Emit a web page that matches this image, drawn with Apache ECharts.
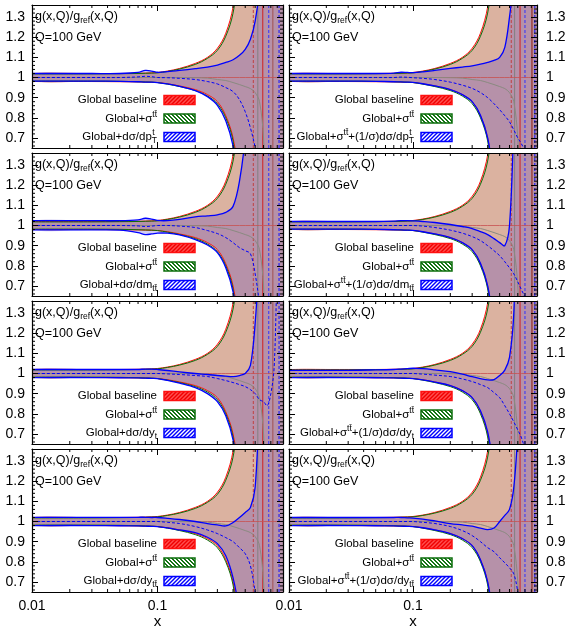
<!DOCTYPE html>
<html>
<head>
<meta charset="utf-8">
<script src="https://cdn.jsdelivr.net/npm/echarts@6/dist/echarts.min.js"></script>
<style>
  html, body { margin: 0; background: #fff; }
  #chart { width: 566px; height: 627px; }
</style>
</head>
<body>
<div id="chart"></div>
<script>
// shared x grid for every curve
const xs = [0.01, 0.03, 0.05, 0.07, 0.08, 0.09, 0.1, 0.12, 0.15, 0.2, 0.25, 0.3, 0.35, 0.4, 0.45, 0.5, 0.55, 0.6, 0.65, 0.7, 0.75, 0.8, 0.85, 0.9, 1.0];

// Global baseline (red) and Global+sigma_tt (green) are the same in every panel
const baseUp = [1.02, 1.02, 1.02, 1.021, 1.022, 1.023, 1.025, 1.032, 1.045, 1.07, 1.10, 1.145, 1.22, 1.35, 1.6, 2, 2, 2, 2, 2, 2, 2, 2, 2, 2];
const baseLo = [0.98, 0.98, 0.979, 0.978, 0.977, 0.976, 0.975, 0.969, 0.958, 0.94, 0.915, 0.88, 0.81, 0.70, 0.5, 0.3, 0.3, 0.3, 0.3, 0.3, 0.3, 0.3, 0.3, 0.3, 0.3];
const baseMid = [1, 1, 1, 1, 1, 1, 1, 1, 1, 1, 1, 1, 1, 1, 1, 1, 1, 1, 1, 1, 1, 1, 1, 1, 1];
const sigUp = [1.018, 1.018, 1.019, 1.02, 1.021, 1.022, 1.023, 1.03, 1.042, 1.065, 1.095, 1.135, 1.205, 1.32, 1.55, 2, 2, 2, 2, 2, 2, 2, 2, 2, 2];
const sigLo = [0.982, 0.982, 0.981, 0.979, 0.978, 0.977, 0.975, 0.967, 0.955, 0.935, 0.908, 0.87, 0.80, 0.685, 0.45, 0.3, 0.3, 0.3, 0.3, 0.3, 0.3, 0.3, 0.3, 0.3, 0.3];
const sigMid = [1, 1, 1, 1, 1, 1, 1, 1, 1, 0.999, 0.997, 0.99, 0.985, 0.975, 0.965, 0.955, 0.945, 0.925, 0.88, 0.7, 0.3, 0.3, 0.3, 0.3, 0.3];

// blue bands, one set per panel
const dptUp = [1.02, 1.02, 1.02, 1.025, 1.035, 1.032, 1.026, 1.029, 1.035, 1.044, 1.052, 1.062, 1.075, 1.088, 1.11, 1.14, 1.19, 1.28, 1.45, 2, 2, 2, 2, 2, 2];
const dptLo = [0.982, 0.982, 0.981, 0.979, 0.977, 0.977, 0.975, 0.968, 0.956, 0.935, 0.905, 0.862, 0.785, 0.66, 0.45, 0.3, 0.3, 0.3, 0.3, 0.3, 0.3, 0.3, 0.3, 0.3, 0.3];
const dptMid = [1, 1, 1, 1.003, 1.006, 1.004, 1.0, 0.999, 0.996, 0.99, 0.98, 0.968, 0.95, 0.93, 0.89, 0.83, 0.75, 0.65, 0.5, 0.3, 0.3, 0.3, 0.3, 0.3, 0.3];

const nDptUp = [1.02, 1.02, 1.02, 1.022, 1.026, 1.025, 1.024, 1.028, 1.035, 1.045, 1.052, 1.058, 1.066, 1.075, 1.085, 1.1, 1.15, 1.3, 1.5, 2, 2, 2, 2, 2, 2];
const nDptLo = [0.982, 0.982, 0.981, 0.979, 0.978, 0.977, 0.976, 0.969, 0.958, 0.94, 0.915, 0.88, 0.812, 0.7, 0.5, 0.3, 0.3, 0.3, 0.3, 0.3, 0.3, 0.3, 0.3, 0.3, 0.3];
const nDptMid = [1, 1, 1, 1, 1.002, 1.001, 0.999, 0.996, 0.99, 0.977, 0.962, 0.946, 0.925, 0.9, 0.87, 0.84, 0.81, 0.78, 0.74, 0.7, 0.67, 0.63, 0.5, 0.3, 0.3];

const dmUp = [1.024, 1.024, 1.024, 1.028, 1.036, 1.032, 1.025, 1.024, 1.03, 1.043, 1.048, 1.053, 1.065, 1.095, 1.22, 1.45, 2, 2, 2, 2, 2, 2, 2, 2, 2];
const dmLo = [0.978, 0.978, 0.977, 0.965, 0.955, 0.958, 0.962, 0.962, 0.953, 0.93, 0.903, 0.865, 0.79, 0.67, 0.45, 0.3, 0.3, 0.3, 0.3, 0.3, 0.3, 0.3, 0.3, 0.3, 0.3];
const dmMid = [1, 1, 1, 0.998, 0.995, 0.997, 1.0, 1.0, 0.997, 0.99, 0.975, 0.96, 0.94, 0.915, 0.89, 0.875, 0.86, 0.76, 0.6, 0.3, 0.3, 0.3, 0.3, 0.3, 0.3];

const nDmUp = [1.02, 1.02, 1.02, 1.022, 1.024, 1.024, 1.023, 1.02, 1.015, 1.005, 0.995, 0.985, 0.97, 0.955, 0.935, 0.915, 0.9, 1.0, 1.5, 2, 2, 2, 2, 2, 2];
const nDmLo = [0.982, 0.982, 0.981, 0.979, 0.978, 0.977, 0.976, 0.969, 0.958, 0.94, 0.915, 0.88, 0.812, 0.7, 0.5, 0.3, 0.3, 0.3, 0.3, 0.3, 0.3, 0.3, 0.3, 0.3, 0.3];
const nDmMid = [1, 1, 1, 1, 1, 1, 1, 0.997, 0.99, 0.977, 0.962, 0.945, 0.925, 0.9, 0.875, 0.85, 0.82, 0.79, 0.76, 0.72, 0.68, 0.64, 0.5, 0.3, 0.3];

const dytUp = [1.02, 1.02, 1.02, 1.02, 1.022, 1.022, 1.02, 1.015, 1.008, 1.0, 0.995, 0.99, 0.987, 0.985, 0.99, 1.0, 1.04, 1.25, 1.6, 2, 2, 2, 2, 2, 2];
const dytLo = [0.98, 0.98, 0.979, 0.978, 0.977, 0.976, 0.975, 0.966, 0.952, 0.93, 0.9, 0.86, 0.79, 0.67, 0.45, 0.3, 0.3, 0.3, 0.3, 0.3, 0.3, 0.3, 0.3, 0.3, 0.3];
const dytMid = [1, 1, 1, 1, 1, 1, 1, 0.998, 0.995, 0.99, 0.985, 0.975, 0.965, 0.955, 0.945, 0.935, 0.92, 0.9, 0.87, 0.86, 0.84, 0.9, 1.03, 1.5, 2];

const nDytUp = [1.016, 1.016, 1.018, 1.02, 1.022, 1.024, 1.026, 1.024, 1.018, 1.009, 0.997, 0.984, 0.975, 0.968, 0.97, 0.99, 1.017, 1.08, 1.3, 2, 2, 2, 2, 2, 2];
const nDytLo = [0.98, 0.98, 0.979, 0.978, 0.977, 0.976, 0.975, 0.968, 0.957, 0.94, 0.915, 0.88, 0.815, 0.71, 0.52, 0.3, 0.3, 0.3, 0.3, 0.3, 0.3, 0.3, 0.3, 0.3, 0.3];
const nDytMid = [1, 1, 1, 1, 1, 1, 1, 0.997, 0.992, 0.985, 0.973, 0.96, 0.945, 0.93, 0.905, 0.88, 0.84, 0.8, 0.76, 0.72, 0.68, 0.62, 0.5, 0.3, 0.3];

const dyttUp = [1.021, 1.021, 1.021, 1.021, 1.021, 1.02, 1.02, 1.016, 1.01, 1.0, 0.99, 0.983, 0.978, 0.995, 1.02, 1.045, 1.07, 1.17, 1.6, 2, 2, 2, 2, 2, 2];
const dyttLo = [0.98, 0.98, 0.979, 0.978, 0.977, 0.976, 0.975, 0.968, 0.958, 0.945, 0.922, 0.89, 0.83, 0.72, 0.55, 0.3, 0.3, 0.3, 0.3, 0.3, 0.3, 0.3, 0.3, 0.3, 0.3];
const dyttMid = [1, 1, 1, 1, 1, 1, 1, 0.996, 0.99, 0.975, 0.958, 0.94, 0.92, 0.9, 0.87, 0.84, 0.78, 0.65, 0.5, 0.3, 0.3, 0.3, 0.3, 0.3, 0.3];

const nDyttUp = [1.02, 1.02, 1.02, 1.02, 1.02, 1.018, 1.017, 1.012, 1.003, 0.99, 0.983, 0.977, 0.967, 0.96, 0.968, 1.0, 1.03, 1.06, 1.17, 1.45, 2, 2, 2, 2, 2];
const nDyttLo = [0.98, 0.98, 0.979, 0.978, 0.977, 0.976, 0.975, 0.969, 0.958, 0.94, 0.915, 0.88, 0.81, 0.70, 0.5, 0.3, 0.3, 0.3, 0.3, 0.3, 0.3, 0.3, 0.3, 0.3, 0.3];
const nDyttMid = [1, 1, 1, 1, 1, 1, 1, 0.996, 0.99, 0.975, 0.955, 0.93, 0.9, 0.87, 0.85, 0.82, 0.795, 0.77, 0.74, 0.65, 0.5, 0.3, 0.3, 0.3, 0.3];

// curves that run off vertically at large x
const leftVertX = [0.58, 0.63, 0.69, 0.77, 0.83, 0.93];
const rightVertX = [0.62, 0.66, 0.73, 0.8, 0.91, 0.96];
const vertColors = ['#c04040', '#808080', '#d02020', '#3030ff', '#a05050', '#1010ff'];
const vertDashed = [true, false, false, true, false, true];

// tick positions
const xMinorTicks = [0.02, 0.03, 0.04, 0.05, 0.06, 0.07, 0.08, 0.09, 0.2, 0.3, 0.4, 0.5, 0.6, 0.7, 0.8, 0.9];
const yMinorTicks = [0.66, 0.68, 0.72, 0.74, 0.76, 0.78, 0.82, 0.84, 0.86, 0.88, 0.92, 0.94, 0.96, 0.98,
  1.02, 1.04, 1.06, 1.08, 1.12, 1.14, 1.16, 1.18, 1.22, 1.24, 1.26, 1.28, 1.32, 1.34];
const xLabels = ['0.01', '0.1'];

const legendNames = ['Global baseline', 'Global+σ'];

const panels = [
  { row: 0, col: 0, up: dptUp, lo: dptLo, mid: dptMid, label: '{b|Global+dσ/dp}{sub|T}', sup: 't' },
  { row: 0, col: 1, up: nDptUp, lo: nDptLo, mid: nDptMid, label: '{b|Global+σ}{sup|tt̄}{b|+(1/σ)dσ/dp}{sub|T}', sup: 't' },
  { row: 1, col: 0, up: dmUp, lo: dmLo, mid: dmMid, label: '{b|Global+dσ/dm}{sub|tt̄}' },
  { row: 1, col: 1, up: nDmUp, lo: nDmLo, mid: nDmMid, label: '{b|Global+σ}{sup|tt̄}{b|+(1/σ)dσ/dm}{sub|tt̄}' },
  { row: 2, col: 0, up: dytUp, lo: dytLo, mid: dytMid, label: '{b|Global+dσ/dy}{sub|t}' },
  { row: 2, col: 1, up: nDytUp, lo: nDytLo, mid: nDytMid, label: '{b|Global+σ}{sup|tt̄}{b|+(1/σ)dσ/dy}{sub|t}' },
  { row: 3, col: 0, up: dyttUp, lo: dyttLo, mid: dyttMid, label: '{b|Global+dσ/dy}{sub|tt̄}' },
  { row: 3, col: 1, up: nDyttUp, lo: nDyttLo, mid: nDyttMid, label: '{b|Global+σ}{sup|tt̄}{b|+(1/σ)dσ/dy}{sub|tt̄}' },
];

const FONT = '"Liberation Sans", Arial, sans-serif';
const colLeft = [32, 289];
const colWidth = [251, 248];
const rowTop = [5, 153, 301, 449];
const plotH = 143;
const Y_MIN = 0.65, Y_MAX = 1.36;
const SMOOTH = 0.35;

const RED = '#ff1010', GREEN = '#0b6e0b', BLUE = '#0000ff';
const redFill = 'rgba(232, 60, 35, 0.34)';
const greenFill = 'rgba(20, 110, 20, 0.12)';
const blueFill = 'rgba(60, 40, 200, 0.23)';

function makeRender(p) {
  const vx = p.col === 0 ? leftVertX : rightVertX;
  return function (params, api) {
    const pts = (ys) => xs.map((x, i) => api.coord([x, ys[i]]));
    const band = (up, lo, fill) => ({
      type: 'polygon',
      shape: { points: pts(up).concat(pts(lo).reverse()), smooth: SMOOTH },
      style: { fill: fill, stroke: null },
    });
    const curve = (ys, stroke, w, dash) => ({
      type: 'polyline',
      shape: { points: pts(ys), smooth: SMOOTH },
      style: { stroke: stroke, lineWidth: w, fill: null, lineDash: dash || null },
    });
    const children = [
      band(baseUp, baseLo, redFill),
      band(sigUp, sigLo, greenFill),
      band(p.up, p.lo, blueFill),
    ];
    vx.forEach((x, i) => {
      const a = api.coord([x, Y_MIN]);
      const b = api.coord([x, Y_MAX]);
      children.push({
        type: 'line',
        shape: { x1: a[0], y1: a[1], x2: b[0], y2: b[1] },
        style: { stroke: vertColors[i], lineWidth: i === 4 && p.col === 1 ? 1.8 : 1, lineDash: vertDashed[i] ? [3, 2] : null },
      });
    });
    children.push(
      curve(baseMid, '#c85050', 0.8),
      curve(sigMid, '#8a8a80', 1),
      curve(baseUp, RED, 1), curve(baseLo, RED, 1),
      curve(sigUp, GREEN, 1), curve(sigLo, GREEN, 1),
      curve(p.mid, BLUE, 1, [3, 2]),
      curve(p.up, BLUE, 1.3), curve(p.lo, BLUE, 1.3)
    );
    // minor ticks
    xMinorTicks.forEach((x) => {
      const b = api.coord([x, Y_MIN]);
      const t = api.coord([x, Y_MAX]);
      children.push({ type: 'line', shape: { x1: b[0], y1: b[1], x2: b[0], y2: b[1] - 3 }, style: { stroke: '#000', lineWidth: 1 } });
      children.push({ type: 'line', shape: { x1: t[0], y1: t[1], x2: t[0], y2: t[1] + 3 }, style: { stroke: '#000', lineWidth: 1 } });
    });
    yMinorTicks.forEach((y) => {
      const l = api.coord([0.01, y]);
      const r = api.coord([1, y]);
      children.push({ type: 'line', shape: { x1: l[0], y1: l[1], x2: l[0] + 3, y2: l[1] }, style: { stroke: '#000', lineWidth: 1 } });
      children.push({ type: 'line', shape: { x1: r[0], y1: r[1], x2: r[0] - 3, y2: r[1] }, style: { stroke: '#000', lineWidth: 1 } });
    });
    return { type: 'group', children: children };
  };
}

function makePattern(bg, fg, dir) {
  const c = document.createElement('canvas');
  c.width = 4; c.height = 4;
  const g = c.getContext('2d');
  g.fillStyle = bg; g.fillRect(0, 0, 4, 4);
  g.fillStyle = fg;
  for (let i = 0; i < 4; i++) {
    const j = dir > 0 ? 3 - i : i;
    g.fillRect(i, j, 1, 1);
    g.fillRect(i, (j + 1) % 4, 1, 1);
  }
  return c;
}
const redPat = { image: makePattern('#ff5050', '#f00000', 1), repeat: 'repeat' };
const greenPat = { image: makePattern('#ffffff', '#157515', -1), repeat: 'repeat' };
const bluePat = { image: makePattern('#ffffff', '#0000ff', 1), repeat: 'repeat' };

function richStyles(size) {
  return {
    b: { fontSize: size, fontFamily: FONT, lineHeight: 17, fill: '#000', color: '#000' },
    sub: { fontSize: 8.5, fontFamily: FONT, lineHeight: 9, verticalAlign: 'bottom', fill: '#000', color: '#000' },
    sup: { fontSize: 8.5, fontFamily: FONT, lineHeight: 9, verticalAlign: 'top', fill: '#000', color: '#000' },
  };
}
const titleRich = richStyles(12.5);
const legendRich = richStyles(11.5);

const grids = [], xAxes = [], yAxes = [], series = [], graphics = [];
const axisLine = { show: true, lineStyle: { color: '#000', width: 1.2 } };
const tickStyle = { show: true, inside: true, length: 6, lineStyle: { color: '#000', width: 1 } };

panels.forEach((p, i) => {
  const left = colLeft[p.col], width = colWidth[p.col], top = rowTop[p.row];
  const lastRow = p.row === 3;
  grids.push({ left: left, top: top, width: width, height: plotH, outerBoundsMode: 'none' });
  xAxes.push({
    gridIndex: i, type: 'log', logBase: 10, min: 0.01, max: 1, position: 'bottom', z: 5,
    axisLine: axisLine, axisTick: tickStyle, splitLine: { show: false },
    axisLabel: {
      show: lastRow, margin: 7, fontSize: 14, fontFamily: FONT, color: '#000',
      formatter: (v) => (v < 0.05 ? xLabels[0] : v < 0.5 ? xLabels[1] : ''),
    },
    name: lastRow ? 'x' : '', nameLocation: 'middle', nameGap: 22,
    nameTextStyle: { fontSize: 15, fontFamily: FONT, color: '#000' },
  });
  xAxes.push({
    gridIndex: i, type: 'log', logBase: 10, min: 0.01, max: 1, position: 'top', z: 5,
    axisLine: axisLine, axisTick: tickStyle, splitLine: { show: false }, axisLabel: { show: false },
  });
  const yBase = {
    gridIndex: i, type: 'value', min: Y_MIN, max: Y_MAX, minInterval: 0.1, maxInterval: 0.1, z: 5,
    axisLine: axisLine, axisTick: tickStyle, splitLine: { show: false },
  };
  yAxes.push(Object.assign({}, yBase, {
    position: 'left',
    axisLabel: { show: p.col === 0, showMinLabel: false, showMaxLabel: false, margin: 7, fontSize: 14, fontFamily: FONT, color: '#000', formatter: (v) => String(+v.toFixed(2)) },
  }));
  yAxes.push(Object.assign({}, yBase, {
    position: 'right',
    axisLabel: { show: p.col === 1, showMinLabel: false, showMaxLabel: false, margin: 9, fontSize: 14, fontFamily: FONT, color: '#000', formatter: (v) => String(+v.toFixed(2)) },
  }));
  series.push({
    type: 'custom', coordinateSystem: 'cartesian2d', xAxisIndex: 2 * i, yAxisIndex: 2 * i,
    clip: true, silent: true, animation: false, data: [0], renderItem: makeRender(p),
  });

  // panel titles
  graphics.push({
    type: 'text', x: left + 3, y: top + 12, z: 10,
    style: { text: '{b|g(x,Q)/g}{sub|ref}{b|(x,Q)}', rich: titleRich, align: 'left', verticalAlign: 'middle' },
  });
  graphics.push({
    type: 'text', x: left + 3, y: top + 33, z: 10,
    style: { text: '{b|Q=100 GeV}', rich: titleRich, align: 'left', verticalAlign: 'middle' },
  });

  // legend
  const tx = left + 125, bx = left + 132;
  const ly = [top + 95, top + 113.5, top + 132];
  const texts = ['{b|' + legendNames[0] + '}', '{b|' + legendNames[1] + '}{sup|tt̄}', p.label];
  const pats = [redPat, greenPat, bluePat];
  const strokes = [RED, GREEN, BLUE];
  for (let k = 0; k < 3; k++) {
    graphics.push({
      type: 'text', x: tx, y: ly[k], z: 10,
      style: { text: texts[k], rich: legendRich, align: 'right', verticalAlign: 'middle' },
    });
    graphics.push({
      type: 'rect', x: bx, y: ly[k] - 4.5, z: 10,
      shape: { width: 31, height: 9 },
      style: { fill: pats[k], stroke: strokes[k], lineWidth: 1.5 },
    });
  }
  if (p.sup) {
    graphics.push({
      type: 'text', x: tx - 2.5, y: ly[2] - 4, z: 10,
      style: { text: p.sup, fontSize: 8.5, fontFamily: FONT, fill: '#000', align: 'right', verticalAlign: 'middle' },
    });
  }
});

const chart = echarts.init(document.getElementById('chart'), null, { renderer: 'canvas' });
chart.setOption({
  animation: false,
  backgroundColor: '#fff',
  grid: grids,
  xAxis: xAxes,
  yAxis: yAxes,
  series: series,
  graphic: graphics,
});
</script>
</body>
</html>
